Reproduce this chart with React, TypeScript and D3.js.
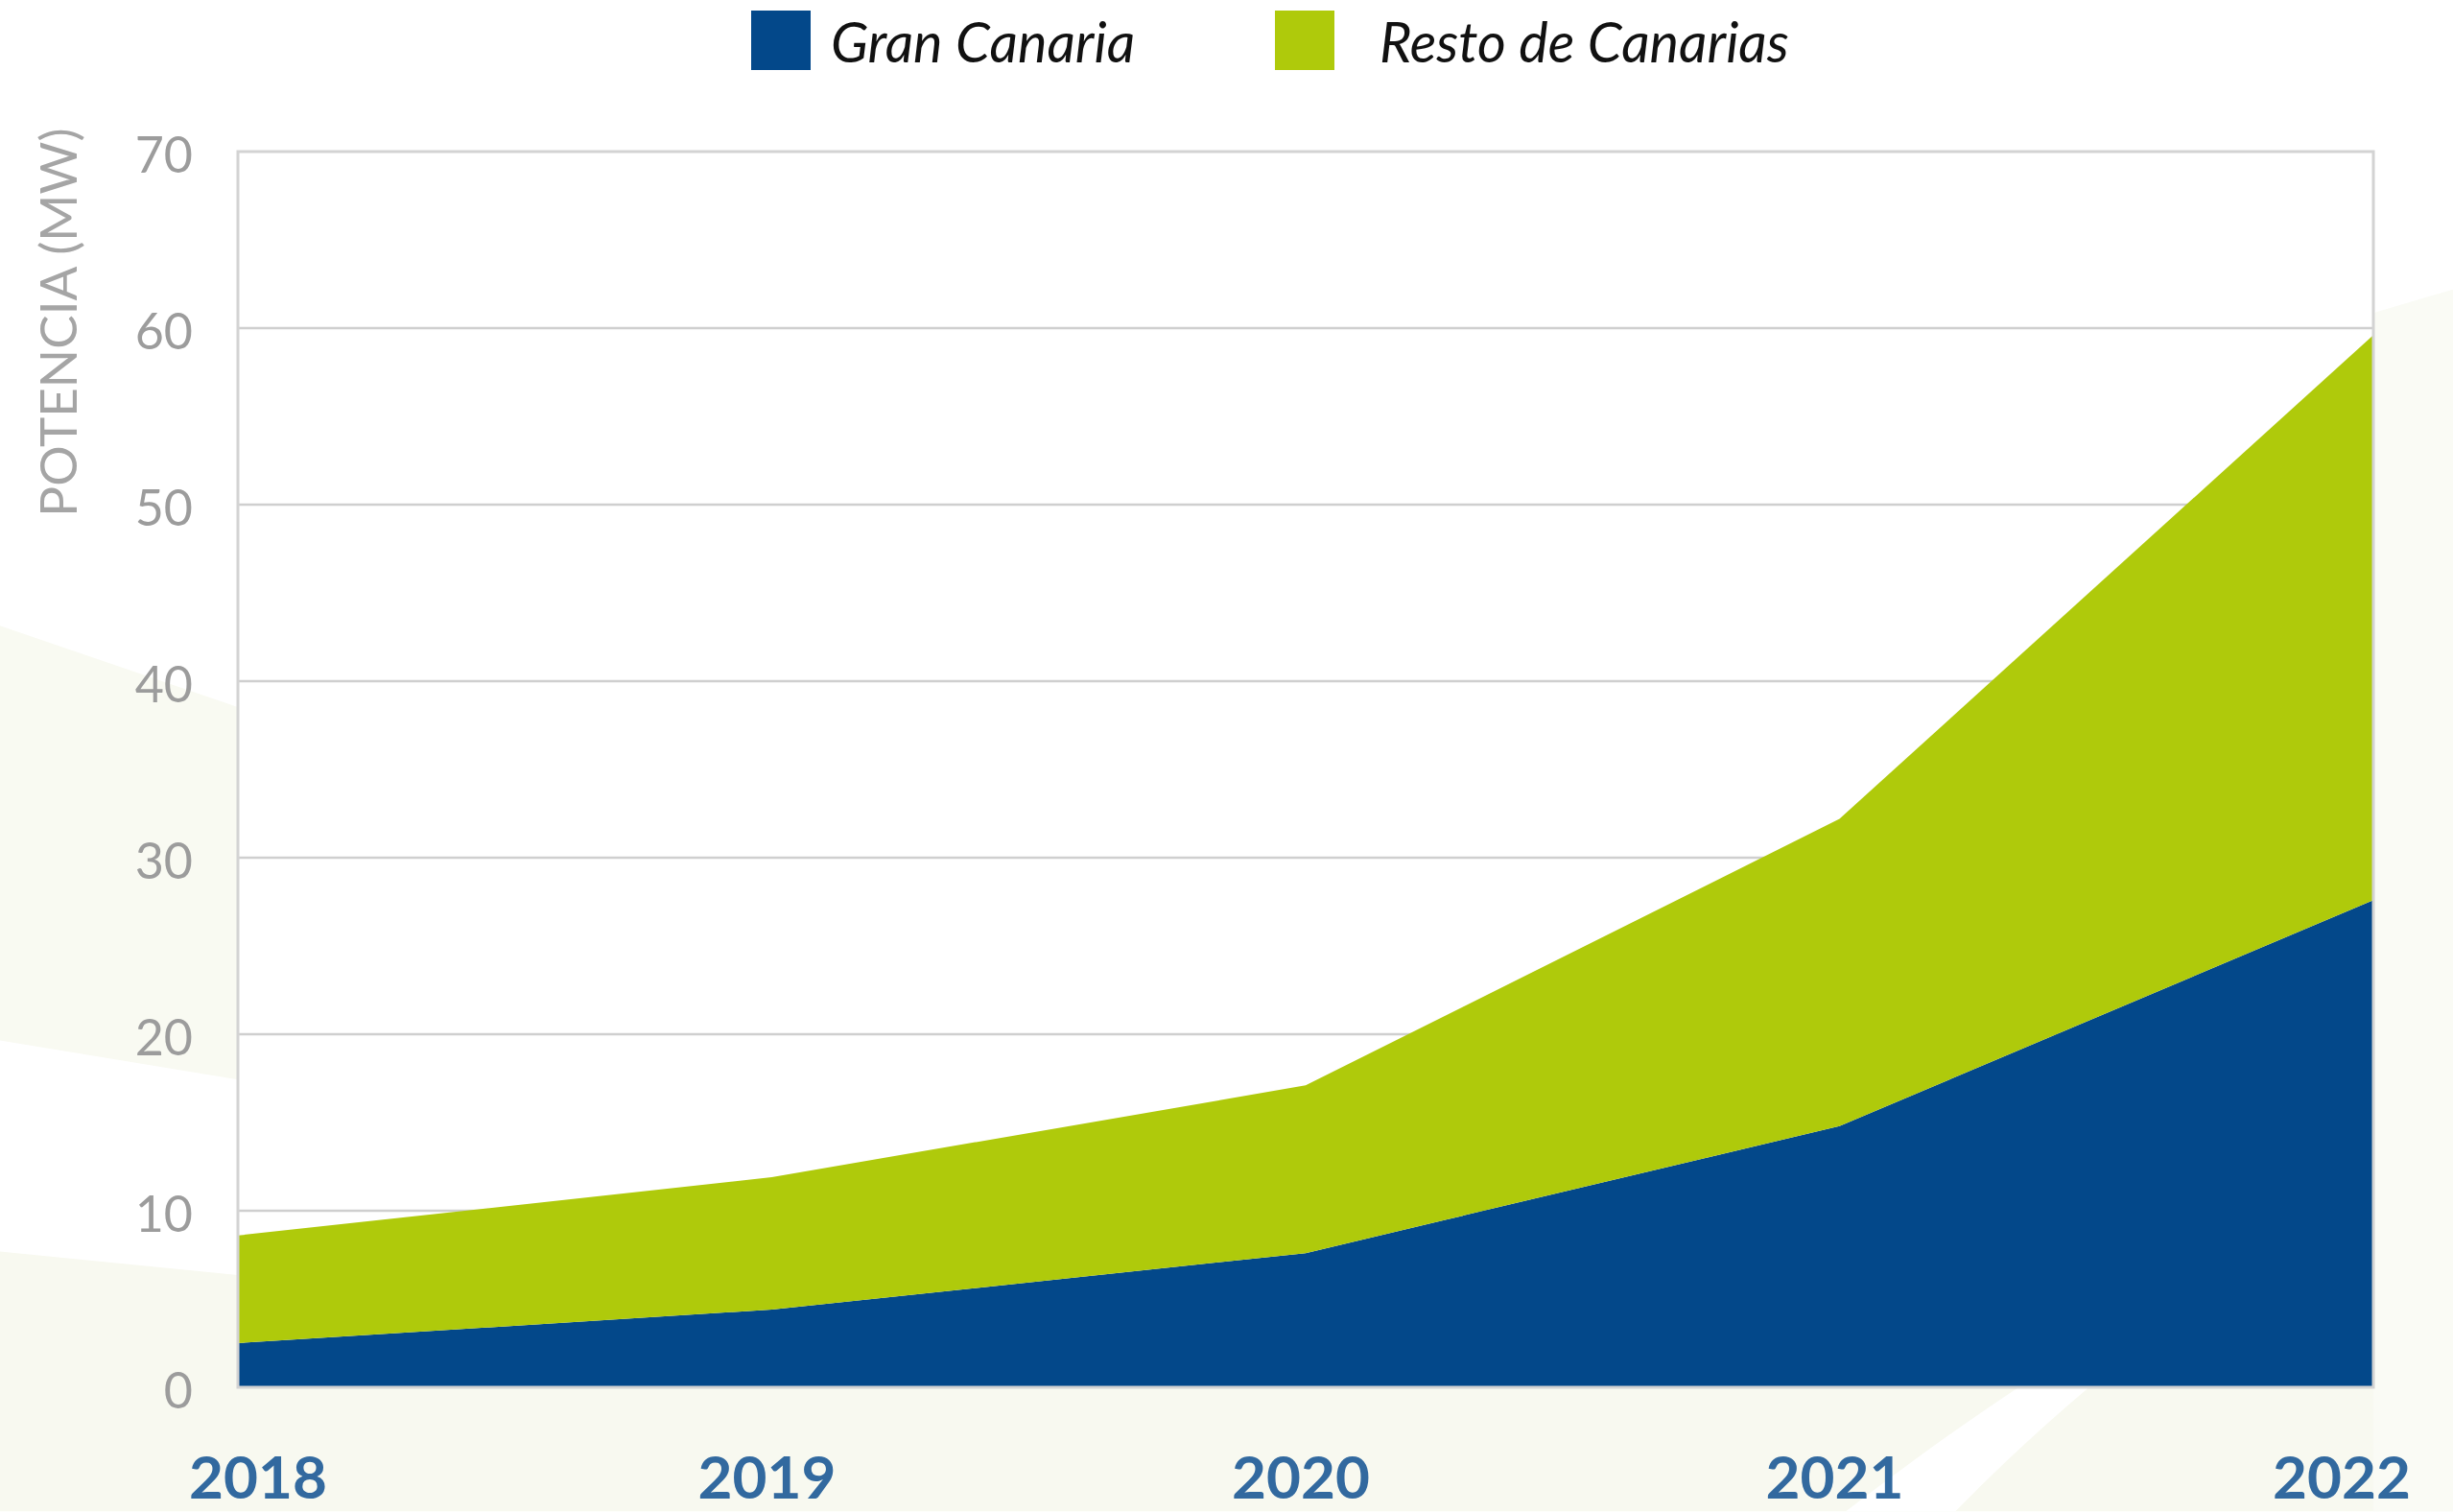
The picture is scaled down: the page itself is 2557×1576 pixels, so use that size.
import React from 'react';
import * as d3 from 'd3';

// data (MW)
const years = ['2018', '2019', '2020', '2021', '2022'];
const granCanaria = [2.5, 4.4, 7.6, 14.8, 27.6];
const restoCanarias = [6.1, 7.5, 9.5, 17.4, 32.0];
const yTicks = [0, 10, 20, 30, 40, 50, 60, 70];
const seriesNames = ['Gran Canaria', 'Resto de Canarias'];
const seriesColors = ['#03488a', '#afca0b'];

const W = 2557;
const H = 1576;

function App() {
  const left = 248, right = 2474, top = 158, bottom = 1446;

  const x = d3.scalePoint<string>().domain(years).range([left, right]);
  const y = d3.scaleLinear().domain([0, 70]).range([bottom, top]);

  // build rows for the stack
  const rows = years.map((yr, i) => ({
    year: yr,
    gc: granCanaria[i],
    rc: restoCanarias[i],
  }));
  const stacked = d3.stack<any>().keys(['gc', 'rc'])(rows);

  const area = d3.area<any>()
    .x((d) => x(d.data.year) as number)
    .y0((d) => y(d[0]))
    .y1((d) => y(d[1]));

  const s = (v: number) => v * 1.6307; // shrunk -> full coords for background shapes

  return (
    <svg width={W} height={H} style={{ position: 'absolute', left: 0, top: 0 }}
      fontFamily="Lato, 'Open Sans', sans-serif">
      {/* background */}
      <rect x={0} y={0} width={W} height={H} fill="#ffffff" />
      <path d={`M0,${s(400)} L${s(152)},${s(452)} L${s(152)},${s(690)} L0,${s(665)} Z`} fill="#f9faf2" />
      <path d={`M0,${s(800)} L${s(152)},${s(815)} L${s(152)},${s(966)} L0,${s(966)} Z`} fill="#f8f9f0" />
      <path d={`M${s(152)},${s(887)} L${s(1568)},${s(887)} L${s(1568)},${s(966)} L${s(152)},${s(966)} Z`} fill="#f8f9f0" />
      <path d={`M${s(1517)},${s(200)} L${s(1568)},${s(185)} L${s(1568)},${s(966)} L${s(1517)},${s(966)} Z`} fill="#fafbf5" />
      <path d={`M${s(1180)},${s(966)} Q${s(1240)},${s(920)} ${s(1290)},${s(887)} L${s(1335)},${s(887)} Q${s(1290)},${s(925)} ${s(1250)},${s(966)} Z`} fill="#ffffff" />

      {/* plot area */}
      <rect x={left} y={top} width={right - left} height={bottom - top} fill="#ffffff" />
      {yTicks.filter((t) => t > 0 && t < 70).map((t) => (
        <line key={t} x1={left} x2={right} y1={y(t)} y2={y(t)} stroke="#cfcfcf" strokeWidth={2.5} />
      ))}

      {stacked.map((ser, i) => (
        <path key={ser.key} d={area(ser) as string} fill={seriesColors[i]} />
      ))}

      <rect x={left} y={top} width={right - left} height={bottom - top} fill="none" stroke="#d3d3d3" strokeWidth={3} />

      {/* y ticks */}
      {yTicks.map((t) => (
        <text key={t} x={201} y={y(t) + 2} textAnchor="end" dominantBaseline="central"
          fontSize={52} fill="#9c9c9c">{t}</text>
      ))}
      <text transform={`translate(80,${336}) rotate(-90)`} textAnchor="middle" fontSize={53} fill="#a5a5a5">
        POTENCIA (MW)
      </text>

      {/* x labels */}
      {years.map((yr) => {
        const cx = Math.min(Math.max((x(yr) as number) - 5, left + 21), right - 33);
        return (
          <text key={yr} x={cx} y={1562} textAnchor="middle" fontSize={62} fontWeight={700} fill="#32699f">{yr}</text>
        );
      })}

      {/* legend */}
      {seriesNames.map((name, i) => {
        const bx = i === 0 ? 783 : 1329;
        const tx = i === 0 ? 866 : 1438;
        return (
          <g key={name}>
            <rect x={bx} y={11} width={62} height={62} fill={seriesColors[i]} />
            <text x={tx} y={65} fontSize={57.5} fontStyle="italic" fill="#111111">{name}</text>
          </g>
        );
      })}
    </svg>
  );
}

export default App;
